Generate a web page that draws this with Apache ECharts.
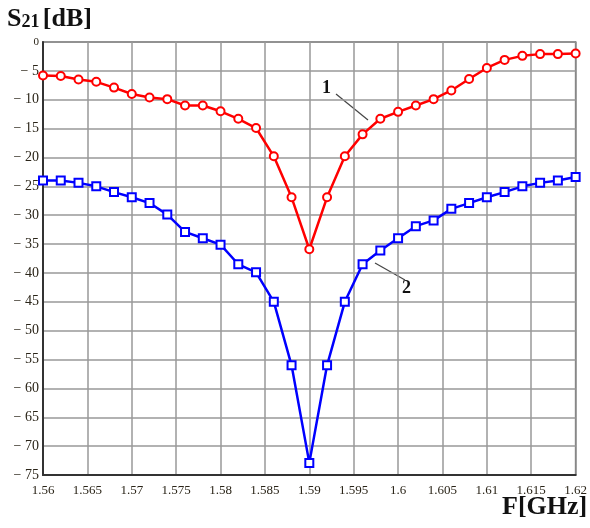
<!DOCTYPE html>
<html>
<head>
<meta charset="utf-8">
<script src="https://cdn.jsdelivr.net/npm/echarts@6/dist/echarts.min.js"></script>
<style>
  html, body { margin: 0; padding: 0; background: #fff; }
</style>
</head>
<body>
<div id="chart" style="width:590px;height:528px;"></div>
<script>
// frequency points, GHz
var freq = [1.560, 1.562, 1.564, 1.566, 1.568, 1.570, 1.572, 1.574, 1.576, 1.578,
  1.580, 1.582, 1.584, 1.586, 1.588, 1.590, 1.592, 1.594, 1.596, 1.598,
  1.600, 1.602, 1.604, 1.606, 1.608, 1.610, 1.612, 1.614, 1.616, 1.618, 1.620];
// curve 1 (red), S21 dB
var s21Curve1 = [-5.8, -5.9, -6.5, -6.9, -7.9, -9.0, -9.6, -9.9, -11.0, -11.0,
  -12.0, -13.3, -14.9, -19.8, -26.9, -35.9, -26.9, -19.8, -16.0, -13.3,
  -12.1, -11.0, -9.9, -8.4, -6.4, -4.5, -3.1, -2.4, -2.1, -2.1, -2.0];
// curve 2 (blue), S21 dB
var s21Curve2 = [-24.0, -24.0, -24.4, -25.0, -26.0, -26.9, -27.9, -29.9, -32.9, -34.0,
  -35.1, -38.5, -39.9, -45.0, -56.0, -72.9, -56.0, -45.0, -38.5, -36.1,
  -34.0, -31.9, -30.9, -28.9, -27.9, -26.9, -26.0, -25.0, -24.4, -24.0, -23.4];

function pairs(xs, ys) {
  return xs.map(function (x, i) { return [x, ys[i]]; });
}

var myChart = echarts.init(document.getElementById("chart"));
var serif = "Liberation Serif";
var option = {
  animation: false,
  backgroundColor: "#fff",
  grid: {
    left: 43,
    right: 14,
    top: 42,
    bottom: 53,
    show: true,
    borderColor: "#555",
    borderWidth: 1.5
  },
  xAxis: {
    type: "value",
    min: 1.56,
    max: 1.62,
    interval: 0.005,
    axisLine: { show: true, onZero: false, lineStyle: { color: "#333", width: 2 } },
    axisTick: { show: false },
    splitLine: { show: true, lineStyle: { color: "#999", width: 1.5 } },
    axisLabel: {
      color: "#2a2418",
      fontFamily: serif,
      fontSize: 13,
      margin: 9,
      formatter: function (v) { return String(parseFloat(v.toFixed(3))); }
    }
  },
  yAxis: {
    type: "value",
    min: -75,
    max: 0,
    interval: 5,
    axisLine: { show: true, onZero: false, lineStyle: { color: "#333", width: 2 } },
    axisTick: { show: false },
    splitLine: { show: true, lineStyle: { color: "#999", width: 1.5 } },
    axisLabel: {
      color: "#2a2418",
      fontFamily: serif,
      fontSize: 14,
      margin: 4,
      formatter: function (v) { return v === 0 ? "{z|0}" : "\u2212 " + Math.abs(v); },
      rich: {
        z: { fontFamily: serif, fontSize: 11, color: "#2a2418" }
      }
    }
  },
  series: [
    {
      name: "1",
      type: "line",
      data: pairs(freq, s21Curve1),
      symbol: "emptyCircle",
      symbolSize: 8,
      lineStyle: { color: "#ff0000", width: 2.5 },
      itemStyle: { color: "#ff0000", borderWidth: 1 }
    },
    {
      name: "2",
      type: "line",
      data: pairs(freq, s21Curve2),
      symbol: "emptyRect",
      symbolSize: 8,
      lineStyle: { color: "#0000ff", width: 2.5 },
      itemStyle: { color: "#0000ff", borderWidth: 1 }
    }
  ],
  graphic: [
    {
      type: "text",
      left: 7,
      top: 6,
      style: {
        text: "{s|S}{n|21} {s|[dB]}",
        rich: {
          s: { fontFamily: serif, fontWeight: "bold", fontSize: 26, fill: "#111" },
          n: { fontFamily: serif, fontWeight: "bold", fontSize: 18, fill: "#111", padding: [7, 0, 0, 0] }
        }
      }
    },
    {
      type: "text",
      left: 502,
      top: 494,
      style: { text: "F[GHz]", fontFamily: serif, fontWeight: "bold", fontSize: 26, fill: "#111" }
    },
    {
      type: "text",
      left: 322,
      top: 79,
      style: { text: "1", fontFamily: serif, fontWeight: "bold", fontSize: 18, fill: "#111" }
    },
    {
      type: "line",
      shape: { x1: 336, y1: 94, x2: 368, y2: 120 },
      style: { stroke: "#444", lineWidth: 1.2 }
    },
    {
      type: "text",
      left: 402,
      top: 279,
      style: { text: "2", fontFamily: serif, fontWeight: "bold", fontSize: 18, fill: "#111" }
    },
    {
      type: "line",
      shape: { x1: 375, y1: 263, x2: 405, y2: 280 },
      style: { stroke: "#444", lineWidth: 1.2 }
    }
  ]
};
myChart.setOption(option, true);
</script>
</body>
</html>
